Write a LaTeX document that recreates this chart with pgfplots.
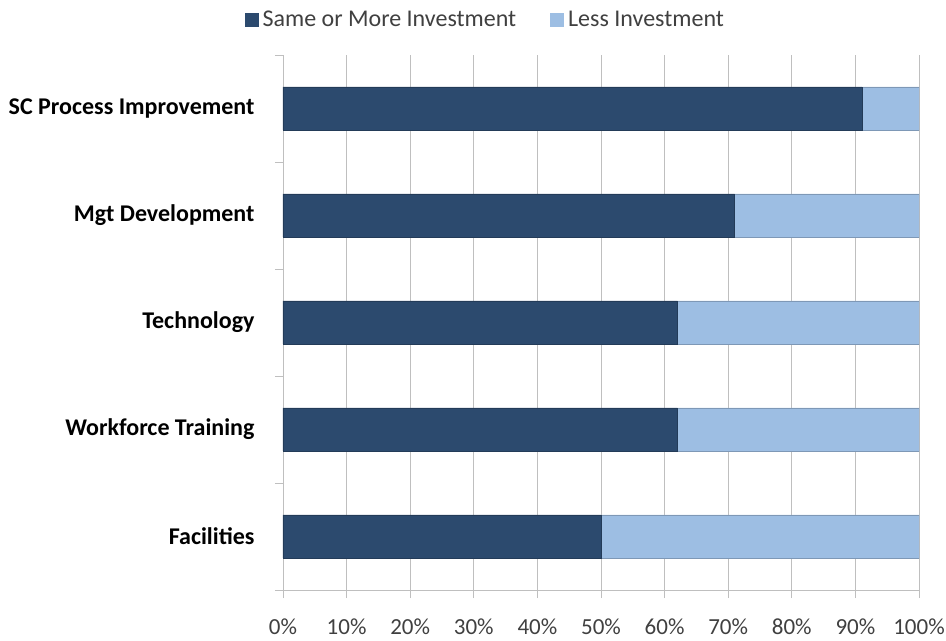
\documentclass[border=0pt]{standalone}
\usepackage{pgfplots}
\pgfplotsset{compat=1.18}
\usepackage{fontspec}
\setmainfont{Carlito}
\definecolor{darkb}{HTML}{2C4A6E}
\definecolor{lightb}{HTML}{9DBEE3}
\definecolor{gridc}{HTML}{BFBFBF}
\definecolor{txt}{HTML}{404040}
\begin{document}
\begin{tikzpicture}
\useasboundingbox (-283bp,-51bp) rectangle (663bp,590bp);
\begin{axis}[
  at={(0,0)}, anchor=south west,
  scale only axis, width=636bp, height=535bp,
  xbar stacked, bar width=43bp,
  xmin=0, xmax=100, ymin=-0.5, ymax=4.5,
  axis x line*=bottom, axis y line*=left,
  axis line style={gridc, line width=0.9pt, -},
  xtick={0,10,...,100},
  xticklabel={\pgfmathprintnumber{\tick}\%},
  xticklabel style={font=\fontsize{23bp}{26bp}\selectfont, text=txt, yshift=-17bp},
  /pgf/number format/assume math mode=true,
  xmajorgrids, grid style={gridc, line width=0.9pt},
  ytick={0,1,2,3,4},
  yticklabels={Facilities, Workforce Training, Technology, Mgt Development, SC Process Improvement},
  yticklabel style={font=\bfseries\fontsize{24bp}{27bp}\selectfont, text=black, xshift=-17bp},
  minor ytick={-0.5,0.5,...,4.5},
  tick align=outside,
  major tick length=8bp, minor tick length=8bp,
  y tick style={draw=none}, minor y tick style={draw=gridc, line width=0.9pt},
  x tick style={gridc, line width=0.9pt},
  legend columns=2,
  legend style={draw=none, at={(axis description cs:0.318,1.066)}, anchor=center,
    font=\fontsize{24bp}{27bp}\selectfont, text=txt,
    /tikz/every odd column/.append style={column sep=2bp},
    /tikz/every even column/.append style={column sep=32bp}},
  legend image code/.code={\draw[#1, draw=none] (0bp,-7bp) rectangle (14bp,7bp);},
]
\addplot[fill=darkb, draw=darkb!80!black] coordinates {(50,0) (62,1) (62,2) (71,3) (91,4)};
\addplot[fill=lightb, draw=lightb!80!black] coordinates {(50,0) (38,1) (38,2) (29,3) (9,4)};
\legend{Same or More Investment, Less Investment}
\end{axis}
\end{tikzpicture}
\end{document}
